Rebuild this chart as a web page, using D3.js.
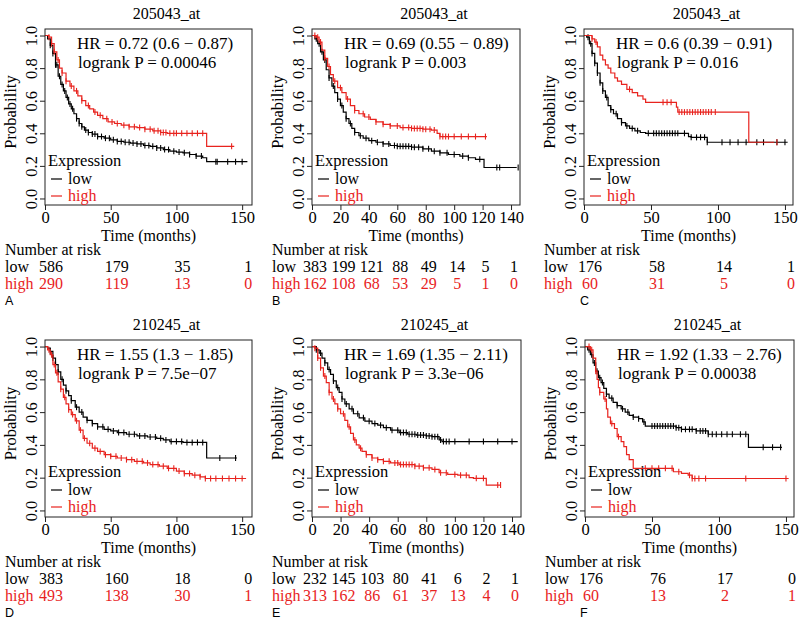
<!DOCTYPE html>
<html><head><meta charset="utf-8">
<script src="https://cdn.jsdelivr.net/npm/d3@7"></script>
<style>
body{margin:0;background:#fff}svg{display:block}
svg text{font-family:"Liberation Serif","Times New Roman","Nimbus Roman","DejaVu Serif",serif !important;}
svg text.letter{font-family:"Liberation Sans",Arial,sans-serif !important;}
</style>
</head><body>
<svg id="c" width="800" height="625"></svg>
<script>
// ---------------- DATA ----------------
const panelKeys = ["A","B","C","D","E","F"];
const titles = ["205043_at","205043_at","205043_at","210245_at","210245_at","210245_at"];
const hrLabels = ["HR = 0.72 (0.6 \u2212 0.87)","HR = 0.69 (0.55 \u2212 0.89)","HR = 0.6 (0.39 \u2212 0.91)",
                  "HR = 1.55 (1.3 \u2212 1.85)","HR = 1.69 (1.35 \u2212 2.11)","HR = 1.92 (1.33 \u2212 2.76)"];
const pLabels = ["logrank P = 0.00046","logrank P = 0.003","logrank P = 0.016",
                 "logrank P = 7.5e\u221207","logrank P = 3.3e\u221206","logrank P = 0.00038"];
const ticks150 = [0,50,100,150];
const ticks140 = [0,20,40,60,80,100,120,140];
const yTicks = [0,0.2,0.4,0.6,0.8,1.0];

const riskLowA = [586,179,35,1],  riskHighA = [290,119,13,0];
const riskLowB = [383,199,121,88,49,14,5,1], riskHighB = [162,108,68,53,29,5,1,0];
const riskLowC = [176,58,14,1],   riskHighC = [60,31,5,0];
const riskLowD = [383,160,18,0],  riskHighD = [493,138,30,1];
const riskLowE = [232,145,103,80,41,6,2,1], riskHighE = [313,162,86,61,37,13,4,0];
const riskLowF = [176,76,17,0],   riskHighF = [60,13,2,1];

// survival steps: [time (months), probability from that time on]
const lowA = [[0,1],[2,0.98],[4,0.94],[6,0.89],[8,0.82],[10,0.75],[12,0.70],[14,0.66],[16,0.62],[18,0.58],[20,0.55],[22,0.52],[24,0.49],[26,0.46],[28,0.44],[30,0.42],[33,0.405],[36,0.395],[40,0.38],[45,0.37],[50,0.36],[55,0.35],[60,0.345],[65,0.34],[70,0.335],[75,0.325],[80,0.32],[85,0.31],[90,0.30],[95,0.29],[100,0.285],[105,0.28],[110,0.27],[115,0.26],[120,0.25],[123,0.226],[154,0.226]];
const highA = [[0,1],[3,0.99],[5,0.95],[7,0.90],[9,0.85],[11,0.80],[13,0.77],[16,0.72],[19,0.69],[22,0.66],[25,0.63],[28,0.60],[31,0.57],[34,0.55],[37,0.53],[40,0.51],[44,0.49],[48,0.47],[53,0.46],[58,0.45],[64,0.44],[70,0.435],[76,0.425],[82,0.415],[88,0.405],[93,0.40],[123,0.32],[144,0.32]];
const lowB = [[0,1],[2,0.98],[4,0.95],[6,0.90],[8,0.85],[10,0.79],[12,0.74],[14,0.69],[16,0.65],[18,0.61],[20,0.57],[22,0.53],[24,0.49],[26,0.46],[28,0.43],[30,0.405],[33,0.385],[36,0.37],[40,0.355],[45,0.345],[50,0.335],[55,0.325],[60,0.32],[70,0.315],[78,0.305],[84,0.29],[90,0.28],[96,0.27],[104,0.26],[110,0.25],[115,0.24],[121,0.19],[144,0.19]];
const highB = [[0,1],[3,0.99],[5,0.96],[7,0.91],[9,0.86],[11,0.81],[13,0.76],[15,0.72],[18,0.68],[21,0.65],[24,0.61],[27,0.57],[30,0.54],[33,0.52],[37,0.50],[41,0.485],[45,0.47],[50,0.455],[55,0.445],[62,0.435],[70,0.43],[78,0.425],[84,0.42],[88,0.40],[90,0.38],[123,0.38]];
const lowC = [[0,1],[2,0.99],[4,0.95],[6,0.89],[8,0.83],[10,0.77],[12,0.71],[14,0.66],[16,0.62],[18,0.57],[20,0.545],[22,0.52],[25,0.49],[28,0.465],[31,0.445],[34,0.43],[38,0.415],[42,0.405],[46,0.40],[78,0.38],[80,0.375],[92,0.345],[152,0.345]];
const highC = [[0,1],[6,0.98],[8,0.96],[10,0.93],[12,0.88],[14,0.85],[16,0.82],[18,0.80],[20,0.77],[23,0.74],[25,0.72],[28,0.70],[32,0.67],[36,0.65],[40,0.63],[44,0.61],[46,0.59],[69,0.56],[70,0.53],[123,0.345],[142,0.345]];
const lowD = [[0,1],[2,0.99],[4,0.97],[6,0.93],[8,0.89],[10,0.845],[12,0.80],[14,0.765],[16,0.73],[18,0.70],[20,0.67],[23,0.63],[26,0.60],[29,0.57],[32,0.55],[36,0.53],[40,0.51],[45,0.495],[50,0.485],[55,0.475],[62,0.465],[70,0.455],[78,0.448],[85,0.44],[90,0.43],[95,0.42],[105,0.415],[123,0.32],[146,0.32]];
const highD = [[0,1],[2,0.98],[4,0.95],[6,0.89],[8,0.84],[10,0.785],[12,0.74],[14,0.69],[16,0.65],[18,0.615],[20,0.585],[23,0.547],[26,0.49],[29,0.44],[32,0.41],[36,0.38],[40,0.36],[45,0.34],[50,0.33],[55,0.32],[62,0.31],[68,0.30],[75,0.29],[80,0.28],[87,0.27],[93,0.257],[100,0.24],[106,0.225],[112,0.215],[118,0.205],[122,0.195],[153,0.195]];
const lowE = [[0,1],[3,0.98],[5,0.96],[7,0.93],[9,0.90],[11,0.86],[13,0.83],[15,0.79],[17,0.75],[19,0.72],[21,0.68],[23,0.65],[26,0.62],[29,0.59],[33,0.565],[37,0.545],[42,0.53],[46,0.52],[50,0.505],[55,0.49],[61,0.475],[67,0.465],[73,0.46],[80,0.455],[84,0.45],[89,0.43],[91,0.42],[144,0.42]];
const highE = [[0,1],[2,0.99],[4,0.93],[6,0.87],[8,0.82],[10,0.78],[12,0.72],[14,0.68],[16,0.65],[18,0.62],[20,0.59],[23,0.55],[25,0.51],[27,0.47],[29,0.43],[31,0.40],[33,0.38],[35,0.36],[38,0.34],[42,0.32],[46,0.31],[50,0.30],[55,0.29],[61,0.28],[72,0.27],[78,0.26],[84,0.25],[89,0.23],[95,0.22],[102,0.215],[110,0.20],[113,0.196],[122,0.155],[132,0.155]];
const lowF = [[0,1],[2,0.98],[4,0.95],[6,0.90],[8,0.85],[10,0.81],[12,0.78],[14,0.745],[16,0.71],[18,0.685],[21,0.66],[24,0.64],[27,0.62],[30,0.60],[33,0.58],[36,0.57],[40,0.56],[43,0.54],[45,0.515],[68,0.505],[72,0.495],[83,0.485],[92,0.465],[122,0.385],[147,0.385]];
const highF = [[0,1],[4,0.98],[6,0.93],[8,0.85],[9,0.80],[10,0.75],[11,0.72],[14,0.68],[16,0.62],[17,0.57],[19,0.53],[22,0.50],[24,0.45],[27,0.42],[29,0.39],[31,0.34],[33,0.31],[36,0.257],[66,0.236],[72,0.226],[77,0.215],[80,0.195],[152,0.195]];

// censoring times (months)
const censLowA = [4,6,8,9,11,13,15,17,19,21,24,26,28,31,33,36,38,40,43,46,49,52,55,58,61,64,67,70,73,76,79,82,85,88,91,94,98,102,106,110,115,119,130,131,139,145,150];
const censHighA = [3,5,7,10,13,16,20,24,28,33,38,42,47,51,55,60,64,68,72,76,80,83,86,88,90,92,95,98,100,104,108,112,116,120,142];
const censLowB = [3,5,7,9,12,15,18,21,24,27,30,34,38,42,46,50,54,58,60,62,64,66,68,70,72,75,78,82,86,90,95,100,106,110,118,130,132,145];
const censHighB = [2,4,6,9,12,16,20,25,30,36,40,45,50,55,60,64,68,70,72,74,76,78,80,83,86,90,92,94,96,100,105,110,115,122];
const censLowC = [3,5,6,8,10,12,14,17,20,24,28,32,36,40,48,52,54,56,58,60,62,64,66,68,70,75,80,84,87,90,92,103,109,115,121,129,134,144,150];
const censHighC = [6,9,34,59,62,65,71,73,75,77,79,81,83,85,87,89,91,93,95,98,144];
const censLowD = [4,6,8,10,13,16,20,24,28,32,36,40,44,48,52,56,60,64,68,72,76,80,84,88,92,96,100,104,108,112,116,120,133,145];
const censHighD = [3,5,7,9,12,15,18,21,24,27,30,34,38,42,46,50,54,58,62,66,70,74,78,82,86,90,94,98,102,106,110,114,118,122,126,130,135,140,145,150];
const censLowE = [3,6,9,12,15,18,21,24,28,32,36,40,44,48,52,56,60,62,64,66,68,70,72,74,76,78,80,82,84,86,88,90,92,94,96,100,110,120,130,140];
const censHighE = [2,4,6,9,12,15,18,22,26,30,34,38,42,46,50,54,58,60,62,64,66,68,70,72,75,78,82,86,90,94,100,104,108,115,120,130,132];
const censLowF = [3,5,7,9,11,13,16,20,24,28,32,36,40,44,50,52,54,56,58,60,62,64,66,68,70,72,75,78,80,83,86,88,90,92,95,98,102,106,110,116,120,133,140,146];
const censHighF = [3,5,8,11,15,20,25,45,50,55,60,65,70,78,80,82,85,90,120,150];

// ---------------- LAYOUT ----------------
const RED = "#e8231e";
const FONT = "Liberation Serif, Times New Roman, serif";
const FS = 16;     // title / axes
const FS2 = 17;    // HR text
const FSL = 16;    // legend
const FS3 = 16;    // risk table
const layout = [
  {left:45,  top:29,  w:207, h:176, xMax:157.5, ticks:ticks150, risk:[riskLowA,riskHighA], low:lowA, high:highA, cl:censLowA, ch:censHighA, riskOff:6, letterX:5},
  {left:312, top:29,  w:208, h:176, xMax:146.3, ticks:ticks140, risk:[riskLowB,riskHighB], low:lowB, high:highB, cl:censLowB, ch:censHighB, riskOff:3, letterX:272},
  {left:584, top:29,  w:209, h:176, xMax:156,   ticks:ticks150, risk:[riskLowC,riskHighC], low:lowC, high:highC, cl:censLowC, ch:censHighC, riskOff:6, letterX:580},
  {left:45,  top:340, w:207, h:177, xMax:157.5, ticks:ticks150, risk:[riskLowD,riskHighD], low:lowD, high:highD, cl:censLowD, ch:censHighD, riskOff:6, letterX:5},
  {left:312, top:340, w:209, h:177, xMax:146.3, ticks:ticks140, risk:[riskLowE,riskHighE], low:lowE, high:highE, cl:censLowE, ch:censHighE, riskOff:3, letterX:272},
  {left:585, top:340, w:209, h:177, xMax:156,   ticks:ticks150, risk:[riskLowF,riskHighF], low:lowF, high:highF, cl:censLowF, ch:censHighF, riskOff:6, letterX:580}
];

const svg = d3.select("#c");
svg.append("rect").attr("width",800).attr("height",625).attr("fill","#fff");
const bis = d3.bisector(d => d[0]).right;

function txt(g, x, y, s, opts = {}) {
  return g.append("text").attr("x", x).attr("y", y)
    .attr("text-anchor", opts.anchor || "start").attr("dominant-baseline","central")
    .attr("font-family", FONT).attr("font-size", opts.size || FS2)
    .attr("fill", opts.fill || "#000").text(s);
}

layout.forEach((c, i) => {
  const g = svg.append("g");
  const bottom = c.top + c.h;
  const x = d3.scaleLinear().domain([0, c.xMax]).range([c.left, c.left + c.w]);
  const y = d3.scaleLinear().domain([-0.04, 1.04]).range([bottom, c.top]);

  // title
  txt(g, c.left + c.w/2 + 18, c.top - 16, titles[i], {anchor:"middle", size:FS});

  // axes
  const xa = g.append("g").attr("transform",`translate(0,${bottom})`)
    .call(d3.axisBottom(x).tickValues(c.ticks).tickSize(5).tickPadding(1).tickFormat(d3.format("d")));
  xa.attr("font-family", FONT).attr("font-size", FS + 0.5);
  xa.select(".domain").remove();
  xa.selectAll(".tick line").attr("stroke","#222");
  xa.selectAll(".tick text").attr("fill","#000");

  const ya = g.append("g").attr("transform",`translate(${c.left},0)`)
    .call(d3.axisLeft(y).tickValues(yTicks).tickSize(5).tickFormat(d3.format(".1f")));
  ya.attr("font-family", FONT).attr("font-size", FS + 0.5);
  ya.select(".domain").remove();
  ya.selectAll(".tick line").attr("stroke","#222");
  ya.selectAll(".tick text").attr("fill","#000")
    .attr("transform","rotate(-90)").attr("x",0).attr("y",-8).attr("dy",0).attr("text-anchor","middle");

  // axis titles
  g.append("text").attr("transform",`translate(${c.left-35},${(c.top+bottom)/2 - 5}) rotate(-90)`)
    .attr("text-anchor","middle").attr("dominant-baseline","central")
    .attr("font-family",FONT).attr("font-size",FS + 0.5).text("Probability");
  txt(g, c.left + c.w/2, bottom + 30, "Time (months)", {anchor:"middle", size:FS});

  // curves
  const line = d3.line().x(d => x(d[0])).y(d => y(d[1])).curve(d3.curveStepAfter);
  const series = [[c.low, c.cl, "#000"], [c.high, c.ch, RED]];
  series.forEach(([pts, cens, col]) => {
    g.append("path").datum(pts).attr("d", line).attr("fill","none")
      .attr("stroke", col).attr("stroke-width", 1.2);
    g.append("g").selectAll("line").data(cens).join("line")
      .attr("x1", t => x(t)).attr("x2", t => x(t))
      .attr("y1", t => y(pts[Math.max(0, bis(pts, t) - 1)][1]) - 3)
      .attr("y2", t => y(pts[Math.max(0, bis(pts, t) - 1)][1]) + 3)
      .attr("stroke", col).attr("stroke-width", 1.1);
  });

  // box
  g.append("rect").attr("x", c.left).attr("y", c.top).attr("width", c.w).attr("height", c.h)
    .attr("fill","none").attr("stroke","#222").attr("stroke-width",1);

  // HR text
  txt(g, c.left + 32, c.top + 14, hrLabels[i]);
  txt(g, c.left + 33, c.top + 33, pLabels[i]);

  // legend
  txt(g, c.left + 3, c.top + 131, "Expression", {size:FSL + 0.5});
  [["low","#000",150],["high",RED,167]].forEach(([lab,col,dy]) => {
    g.append("line").attr("x1", c.left + 6).attr("x2", c.left + 17)
      .attr("y1", c.top + dy).attr("y2", c.top + dy).attr("stroke", col).attr("stroke-width",1.2);
    txt(g, c.left + 23, c.top + dy - 1, lab, {fill: lab === "high" ? RED : "#000", size:FSL});
  });

  // risk table
  const tx = c.left - 40;
  txt(g, tx, bottom + 44, "Number at risk", {size:FS3});
  [["low","#000",0,61],["high",RED,1,78]].forEach(([lab,col,k,dy]) => {
    txt(g, tx, bottom + dy, lab, {fill: col, size:FS3});
    g.append("g").selectAll("text").data(c.risk[k]).join("text")
      .attr("x", (v, j) => x(c.ticks[j]) + c.riskOff).attr("y", bottom + dy)
      .attr("text-anchor","middle").attr("dominant-baseline","central")
      .attr("font-family",FONT).attr("font-size",FS3).attr("fill",col).text(v => v);
  });

  // panel letter
  g.append("text").attr("class","letter").attr("x", c.letterX).attr("y", bottom + 96)
    .attr("dominant-baseline","central")
    .attr("font-family","Liberation Sans, Arial, sans-serif").attr("font-size",12.5).text(panelKeys[i]);
});
</script>
</body></html>
